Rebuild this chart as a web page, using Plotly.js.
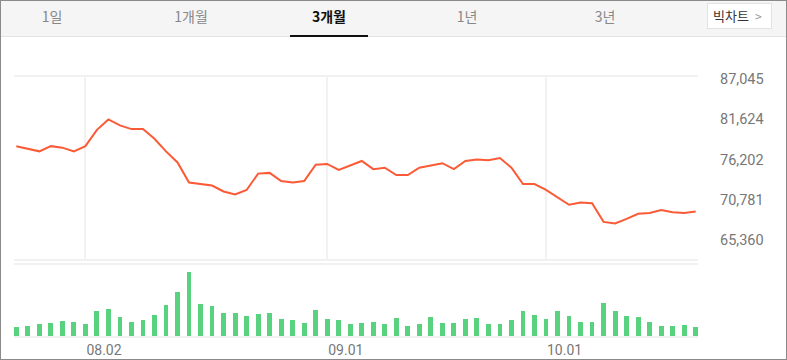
<!DOCTYPE html>
<html>
<head>
<meta charset="utf-8">
<script src="https://cdn.plot.ly/plotly-3.0.1.min.js"></script>
<style>
  html, body { margin:0; padding:0; background:#fff; }
  #wrap { position:relative; width:787px; height:360px; overflow:hidden; font-family: Roboto, "Noto Sans CJK KR", sans-serif; }
  #chart { position:absolute; left:0; top:0; width:787px; height:360px; }
  #tabs { position:absolute; left:0; top:0; width:787px; height:36px; background:#f5f5f5; border-bottom:1px solid #e3e3e3; box-sizing:content-box; }
  .tab { position:absolute; top:0; height:36px; line-height:33px; font-size:14px; color:#888; font-family:"Noto Sans CJK KR", sans-serif; transform:translateX(-50%); white-space:nowrap; }
  .tab.on { color:#111; font-weight:bold; }
  #uline { position:absolute; left:290px; top:35px; width:78px; height:2px; background:#111; }
  #big { position:absolute; left:707px; top:3px; width:65px; height:26px; background:#fff; border:1px solid #e2e2e2; font-family:"Noto Sans CJK KR", sans-serif; font-size:13px; color:#333; line-height:24px; padding-left:5px; box-sizing:border-box; }
  #big span { color:#999; margin-left:6px; font-size:12px; }
  #frame { position:absolute; left:0; top:0; width:787px; height:360px; border:1px solid #8a8a8a; box-sizing:border-box; pointer-events:none; }
</style>
</head>
<body>
<div id="wrap">
  <div id="chart"></div>
  <div id="tabs">
    <div class="tab" style="left:52px">1일</div>
    <div class="tab" style="left:191px">1개월</div>
    <div class="tab on" style="left:329px">3개월</div>
    <div class="tab" style="left:467px">1년</div>
    <div class="tab" style="left:605px">3년</div>
    <div id="uline"></div>
    <div id="big">빅차트<span>&gt;</span></div>
  </div>
  <div id="frame"></div>
</div>
<script>
// trading-day index for each session (60 sessions)
const dayIndex = [];
for (let i = 0; i < 60; i++) dayIndex.push(i);

// closing prices
const prices = [
  78000, 77600, 77300, 78000, 77800, 77300, 78000, 80200, 81600, 80800,
  80300, 80300, 79000, 77300, 75800, 73100, 72900, 72700, 71900, 71500,
  72100, 74300, 74400, 73300, 73100, 73300, 75500, 75600, 74800, 75400,
  76000, 74900, 75100, 74100, 74100, 75100, 75400, 75700, 74900, 76000,
  76200, 76100, 76400, 75100, 72900, 72900, 72100, 71100, 70100, 70400,
  70300, 67800, 67600, 68200, 68900, 69000, 69400, 69100, 69000, 69200
];

// trading volume
const volumes = [
  2250, 2600, 2930, 3250, 3680, 3500, 2930, 6350, 6680, 4750,
  3430, 4000, 5250, 7850, 11100, 16100, 8100, 7600, 5680, 5850,
  5000, 5430, 5750, 4350, 3930, 3250, 6430, 4180, 3930, 3100,
  3250, 3430, 2930, 4600, 2500, 2930, 4680, 3250, 3350, 4250,
  4430, 3100, 2930, 4000, 6250, 5180, 4180, 6250, 4930, 3430,
  3600, 8180, 6350, 5100, 4680, 3430, 2430, 2600, 2750, 2180
];

// x tick labels (month starts)
const xTickIdx = [6, 27, 46];
const xTickText = ['08.02', '09.01', '10.01'];

// y tick labels (price)
const yTickVals = [87045, 81624, 76202, 70781, 65360];

const traces = [
  {
    type: 'scatter', mode: 'lines', x: dayIndex, y: prices,
    line: { color: '#fb5a36', width: 2 }, xaxis: 'x', yaxis: 'y',
    hoverinfo: 'skip', cliponaxis: false
  },
  {
    type: 'bar', x: dayIndex, y: volumes, width: 0.42,
    marker: { color: '#58d27e', line: { width: 0 } }, xaxis: 'x2', yaxis: 'y2',
    hoverinfo: 'skip'
  }
];

const gridC = '#f1f1f1';
const layout = {
  width: 787, height: 360,
  margin: { l: 14, r: 89, t: 0, b: 0 },
  paper_bgcolor: '#fff', plot_bgcolor: '#fff',
  showlegend: false,
  font: { family: 'Roboto, sans-serif', size: 14, color: '#777' },
  xaxis: {
    domain: [0, 1], range: [-0.2, 59.2], anchor: 'y',
    tickvals: xTickIdx, showticklabels: false, ticks: '',
    showgrid: true, gridcolor: gridC, gridwidth: 2,
    zeroline: false, showline: true, mirror: true, linecolor: gridC, linewidth: 2,
    layer: 'below traces', fixedrange: true
  },
  yaxis: {
    domain: [0.28056, 0.78611], range: [62801, 87314], anchor: 'x',
    side: 'right', tickvals: yTickVals, tickformat: ',d',
    showgrid: false, zeroline: false, showline: false, ticks: '',
    ticklabelstandoff: 21,
    tickfont: { family: 'Roboto, sans-serif', size: 14.5, color: '#777' },
    layer: 'below traces', fixedrange: true
  },
  xaxis2: {
    domain: [0, 1], range: [-0.2, 59.2], anchor: 'y2', matches: 'x',
    tickvals: xTickIdx, ticktext: xTickText, ticks: '',
    ticklabelposition: 'outside right',
    tickfont: { family: 'Roboto, sans-serif', size: 14, color: '#777' },
    showgrid: false, zeroline: false, showline: true, mirror: true, linecolor: gridC, linewidth: 2,
    layer: 'below traces', fixedrange: true
  },
  yaxis2: {
    domain: [0.06667, 0.26389], range: [0, 17750], anchor: 'x2',
    showticklabels: false, showgrid: false, zeroline: false, showline: false, ticks: '',
    layer: 'below traces', fixedrange: true
  },
  bargap: 0
};

Plotly.newPlot('chart', traces, layout, { displayModeBar: false, staticPlot: true });
</script>
</body>
</html>
